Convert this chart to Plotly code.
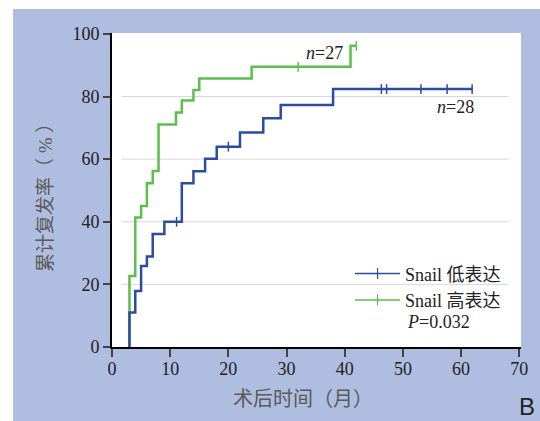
import plotly.graph_objects as go

# ---- data ----
low_t = [3, 3, 4, 5, 6, 7, 9, 12, 14, 16, 18, 22, 26, 29, 38, 62]
low_v = [0, 11.0, 17.9, 25.9, 28.9, 36.1, 40.0, 52.3, 56.1, 60.1, 64.0, 68.5, 73.1, 77.3, 82.4, 82.4]
low_cens_t = [11.1, 20, 46.3, 47.2, 53.1, 57.6, 61.9]
low_cens_v = [40.0, 64.0, 82.4, 82.4, 82.4, 82.4, 82.4]

high_t = [3, 3, 4, 5, 6, 7, 8, 11, 12, 14, 15, 24, 41, 42]
high_v = [0, 22.7, 41.4, 45.0, 52.3, 56.2, 71.1, 74.9, 78.7, 82.1, 85.8, 89.5, 96.2, 96.2]
high_cens_t = [32, 42]
high_cens_v = [89.5, 96.2]

x_ticks = [0, 10, 20, 30, 40, 50, 60, 70]
y_ticks = [0, 20, 40, 60, 80, 100]
grid_y = [20, 40, 60, 80]

labels = ["Snail 低表达", "Snail 高表达"]
p_text = "<i>P</i>=0.032"
n_low = "<i>n</i>=28"
n_high = "<i>n</i>=27"
x_title = "术后时间（月）"
y_title = "累计复发率（ % ）"

BLUE = "#2b4c9f"
GREEN = "#5cbf4c"
BG = "#aebde0"
SERIF = "Liberation Serif, Noto Serif CJK SC, Noto Sans CJK SC, serif"
CJK = "Liberation Serif, Noto Sans CJK SC, sans-serif"

fig = go.Figure()

# curves (high first so low is on top)
fig.add_trace(go.Scatter(x=high_t, y=high_v, mode="lines", line=dict(color=GREEN, width=2.5, shape="hv"),
                         showlegend=False, hoverinfo="skip"))
fig.add_trace(go.Scatter(x=low_t, y=low_v, mode="lines", line=dict(color=BLUE, width=2.5, shape="hv"),
                         showlegend=False, hoverinfo="skip"))
fig.add_trace(go.Scatter(x=high_cens_t, y=high_cens_v, mode="markers",
                         marker=dict(symbol="line-ns", size=7, line=dict(color=GREEN, width=1.5)),
                         showlegend=False, hoverinfo="skip"))
fig.add_trace(go.Scatter(x=low_cens_t, y=low_cens_v, mode="markers",
                         marker=dict(symbol="line-ns", size=7, line=dict(color=BLUE, width=1.5)),
                         showlegend=False, hoverinfo="skip"))

# legend entries
for name, col in zip(labels, [BLUE, GREEN]):
    fig.add_trace(go.Scatter(x=[None], y=[None], mode="lines+markers", name=name,
                             line=dict(color=col, width=1.5),
                             marker=dict(symbol="line-ns", size=8, line=dict(color=col, width=1.2))))

shapes = [
    dict(type="rect", xref="paper", yref="paper", x0=-0.242, x1=1.06, y0=-0.25, y1=1.0764,
         fillcolor=BG, line=dict(width=0), layer="below"),
    dict(type="rect", xref="paper", yref="paper", x0=0, x1=1, y0=0, y1=1,
         fillcolor="white", line=dict(width=0), layer="below"),
]
for gy in grid_y:
    shapes.append(dict(type="line", xref="x", yref="y", x0=1.7, x1=68.2, y0=gy, y1=gy,
                       line=dict(color="#d8d8d8", width=1), layer="below"))

annotations = [
    dict(text=n_high, x=36.6, y=93.9, xref="x", yref="y", showarrow=False,
         xanchor="center", yanchor="middle", font=dict(family=SERIF, size=18, color="#222")),
    dict(text=n_low, x=59.1, y=76.7, xref="x", yref="y", showarrow=False,
         xanchor="center", yanchor="middle", font=dict(family=SERIF, size=18, color="#222")),
    dict(text=p_text, x=0.717, y=0.0796, xref="paper", yref="paper", xanchor="left", yanchor="middle",
         showarrow=False, font=dict(family=SERIF, size=18, color="#222")),
    dict(text=y_title, x=-0.164, y=0.49, xref="paper", yref="paper", textangle=-90,
         xanchor="center", yanchor="middle",
         showarrow=False, font=dict(family=CJK, size=19, color="#5a5a5a")),
    dict(text=x_title, x=0.467, y=-0.166, xref="paper", yref="paper",
         xanchor="center", yanchor="middle",
         showarrow=False, font=dict(family=CJK, size=20, color="#5a5a5a")),
    dict(text="B", x=1.015, y=-0.188, xref="paper", yref="paper", showarrow=False,
         xanchor="center", yanchor="middle",
         font=dict(family="Liberation Sans, Arial, sans-serif", size=24, color="#222")),
]

fig.update_layout(
    width=540, height=421,
    margin=dict(l=112, r=19, t=33, b=74),
    paper_bgcolor="white", plot_bgcolor="rgba(0,0,0,0)",
    shapes=shapes, annotations=annotations,
    showlegend=True,
    legend=dict(x=0.582, y=0.292, xanchor="left", yanchor="top", bgcolor="rgba(0,0,0,0)",
                font=dict(family=CJK, size=18, color="#222"), tracegroupgap=0,
                itemwidth=45),
    xaxis=dict(range=[0, 70.3], tickvals=x_ticks, ticks="outside", ticklen=8, tickwidth=2,
               showline=True, linecolor="black", linewidth=2, showgrid=False, zeroline=False,
               layer="above traces", ticklabelstandoff=-4,
               tickfont=dict(family=SERIF, size=18, color="#222")),
    yaxis=dict(range=[0, 100.3], tickvals=y_ticks, ticks="outside", ticklen=7, tickwidth=2,
               showline=True, linecolor="black", linewidth=2, showgrid=False, zeroline=False,
               layer="above traces",
               tickfont=dict(family=SERIF, size=18, color="#222")),
)

fig.write_html("out.html", config={"displayModeBar": False},
               post_script="document.body.style.margin='0px';")
